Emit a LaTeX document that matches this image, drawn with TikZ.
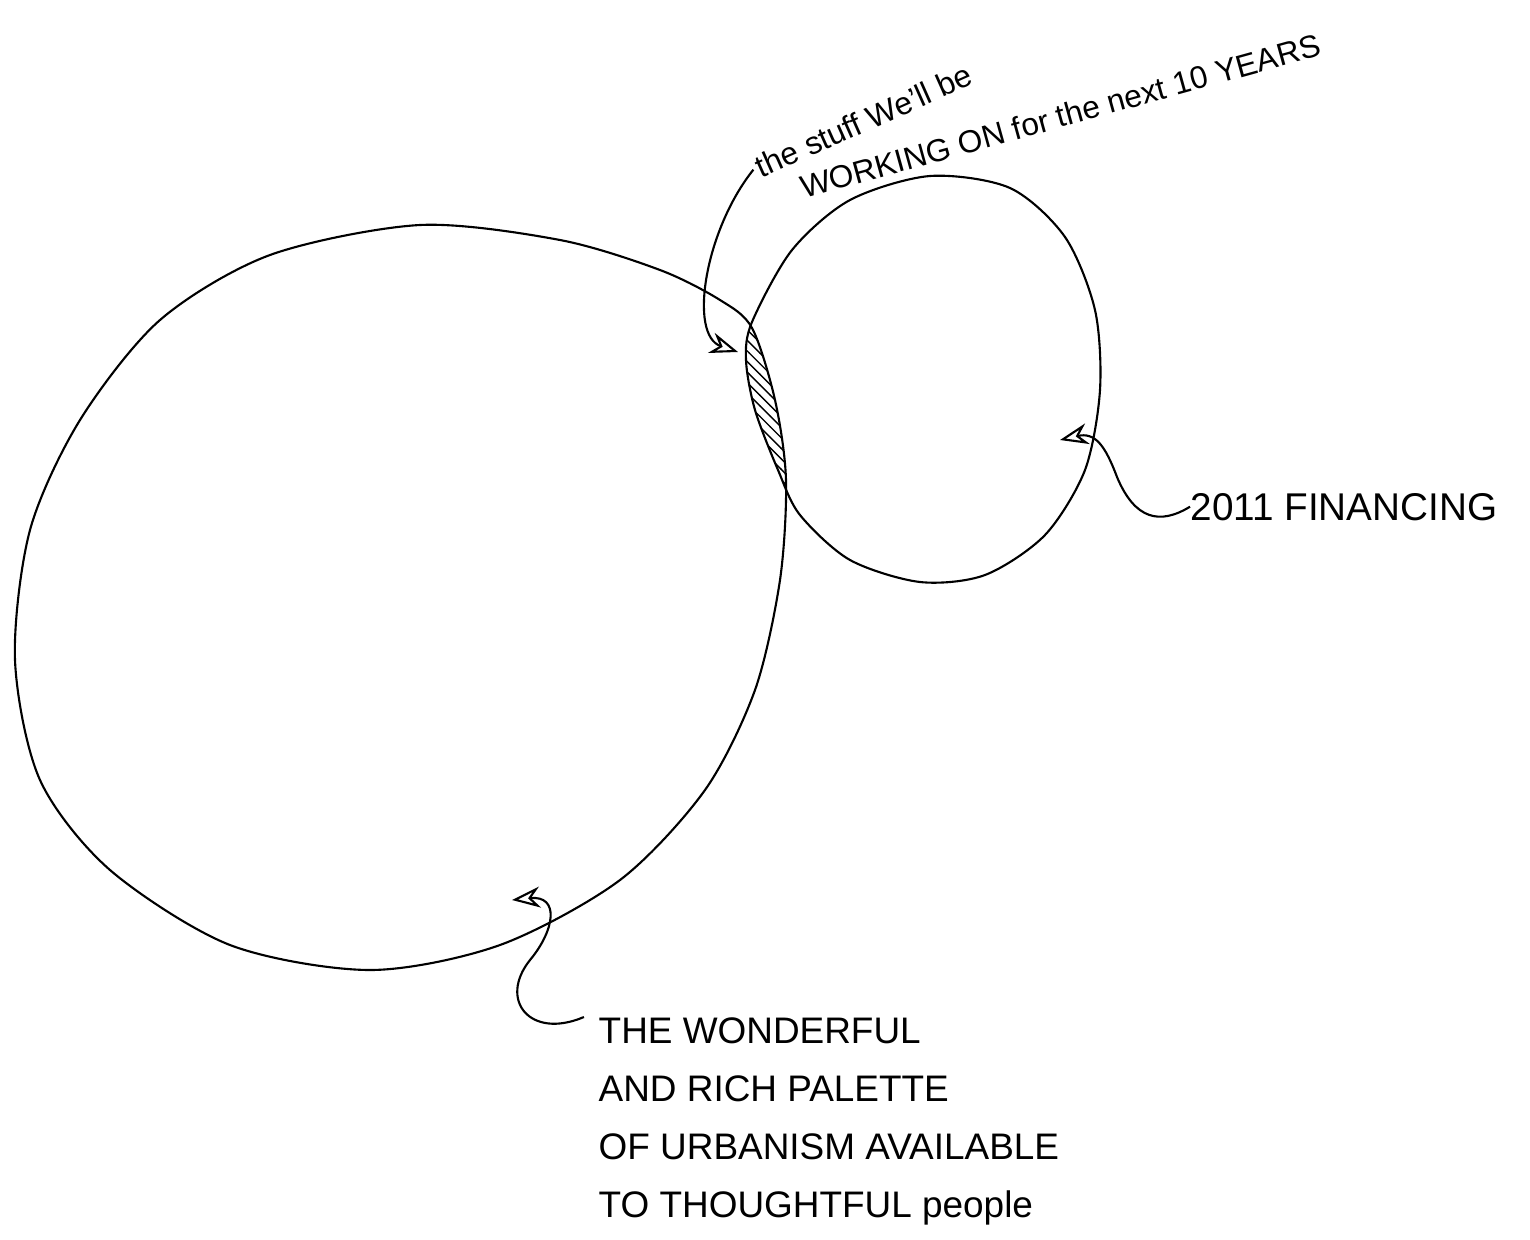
\documentclass[tikz,border=0pt]{standalone}
\usepackage{fontspec}
\setmainfont{Liberation Sans}
\usepackage{tikz}
\usetikzlibrary{arrows.meta,positioning,patterns}

\def\bigshape{plot[smooth cycle] coordinates {(15,660) (30,530) (80,420) (160,320) (270,255) (420,225) (560,240) (660,270) (720,300) (752,328) (775,400) (786,480) (780,580) (755,690) (705,790) (620,880) (500,945) (370,970) (230,945) (110,870) (40,780)}}
\def\smallshape{plot[smooth cycle] coordinates {(752,322) (792,250) (850,200) (930,176) (1010,188) (1065,237) (1095,310) (1100,390) (1085,470) (1045,535) (985,575) (920,582) (850,560) (800,515) (778,470) (755,410) (746,360)}}

\begin{document}
\begin{tikzpicture}[x=0.01cm,y=-0.01cm,
  outline/.style={line width=0.6pt},
  leader/.style={line width=0.6pt,-{Stealth[open,length=8pt,width=6pt]}},
  note/.style={font=\fontsize{9}{11}\selectfont,inner sep=1pt},
  label/.style={font=\fontsize{10.5}{16.5}\selectfont,align=left,inner sep=0pt}]
\useasboundingbox (0,0) rectangle (1530,1239);

% the two circles and their overlap
\draw[outline] \bigshape;
\draw[outline] \smallshape;
\begin{scope}
\clip \bigshape;
\fill[pattern=north west lines] \smallshape;
\end{scope}

% labels
\node[note,anchor=base west,rotate=24] (stuff) at (758,180) {the stuff We'll be};
\node[note,anchor=base west,rotate=15.5] (working) at (800,200) {WORKING ON for the next 10 YEARS};
\node[label,font=\fontsize{11}{13}\selectfont,anchor=base west] (financing) at (1190,520) {2011 FINANCING};
\node[label,anchor=north west] (palette) at (598,1017) {THE WONDERFUL\\AND RICH PALETTE\\OF URBANISM AVAILABLE\\TO THOUGHTFUL people};

% arrow ends
\coordinate (lensmark) at (738,352);
\coordinate (smallmark) at (1060,440);
\coordinate (bigmark) at (512,900);

\draw[leader] (stuff.west) .. controls (705,230) and (688,335) .. (lensmark);
\draw[leader] (financing.west) .. controls (1160,525) and (1135,520) .. (1117,477) .. controls (1105,445) and (1095,432) .. (smallmark);
\draw[leader] ([xshift=-4pt]palette.north west) .. controls (530,1040) and (498,1000) .. (530,960) .. controls (555,930) and (560,895) .. (bigmark);
\end{tikzpicture}
\end{document}
